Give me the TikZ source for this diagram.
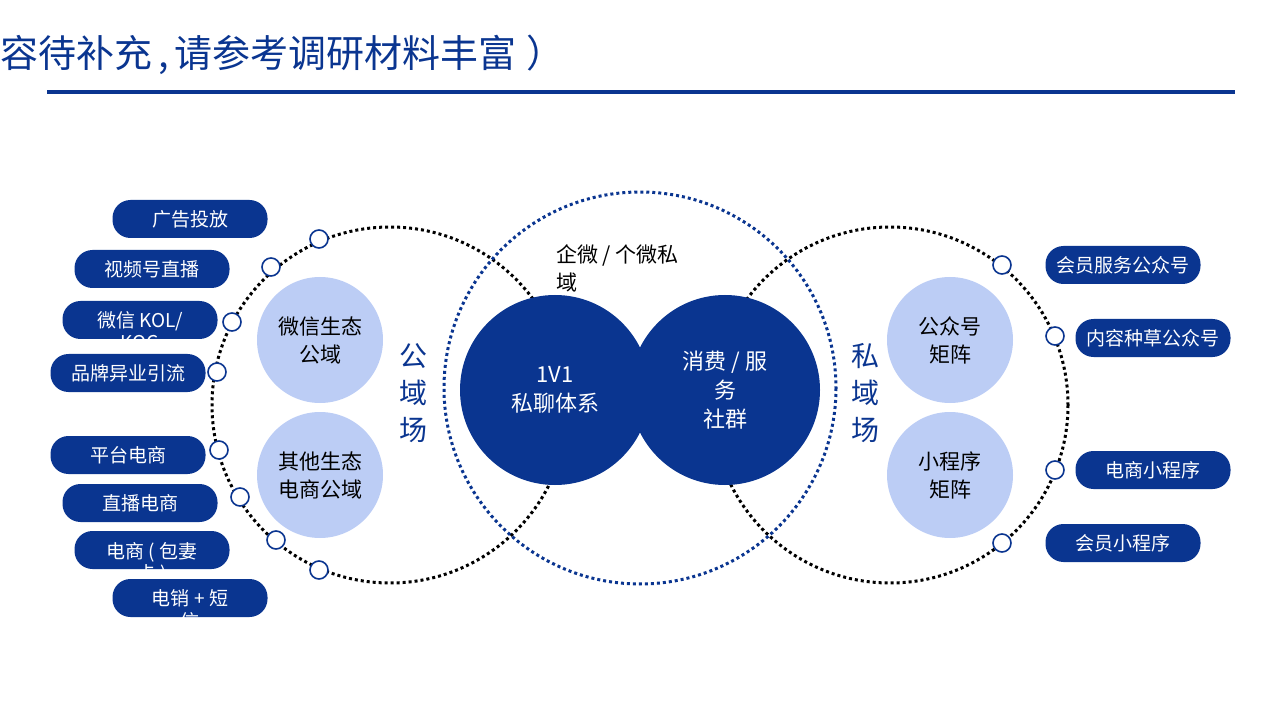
\documentclass[tikz,border=0pt]{standalone}
\usepackage{fontspec}
\setmainfont{Noto Sans CJK SC}
\newcommand{\twol}[2]{\raisebox{0pt}[\height][0pt]{\begin{tabular}[t]{@{}c@{}}#1\\#2\end{tabular}}}
\begin{document}
\begin{tikzpicture}[x=1pt,y=-1pt,
  pill/.style={fill=dblue,draw=none,rounded corners=18pt,minimum width=155pt,minimum height=38pt,text=white,font=\fontsize{19}{22}\selectfont,inner sep=0pt},
  ring/.style={circle,draw=dblue,line width=1.6pt,fill=white,minimum size=18pt,inner sep=0pt},
  light/.style={circle,fill=lblue,minimum size=126pt,inner sep=0pt,font=\fontsize{21}{28}\selectfont,align=center},
  dark/.style={circle,fill=dblue,minimum size=190pt,inner sep=0pt,text=white,font=\fontsize{22}{29}\selectfont,align=center},
  bigdot/.style={draw=black,line width=3pt,dash pattern=on 3pt off 3pt},
]
\definecolor{dblue}{HTML}{0A3590}
\definecolor{lblue}{HTML}{BCCDF5}
\definecolor{tblue}{HTML}{0A3590}
\useasboundingbox (0,0) rectangle (1280,719);
\clip (0,0) rectangle (1280,719);
\node[anchor=west,text=tblue,font=\fontsize{38}{42}\selectfont,inner sep=0pt] (title) at (-38,55) {内容待补充\hspace{6pt},\hspace{6pt}请参考调研材料丰富\hspace{10pt}）};
\draw[dblue,line width=4pt] (47,92) -- (1235,92);
\draw[bigdot] (390,405) circle (178);
\draw[bigdot] (890,405) circle (178);
\draw[draw=dblue,line width=3pt,dash pattern=on 3pt off 3pt] (640,388) circle (196);
\node[light] (w) at (320,340) {微信生态\\公域};
\node[light] (o) at (320,475) {其他生态\\电商公域};
\node[light] (g) at (950,340) {公众号\\矩阵};
\node[light] (x) at (950,475) {小程序\\矩阵};
\node[dark] (d1) at (555,390) {1V1\\私聊体系};
\node[dark] (d2) at (725,390) {消费 / 服\\务\\社群};
\node[text=tblue,font=\fontsize{28}{37}\selectfont,align=center] (gy) at (413,393) {公\\域\\场};
\node[text=tblue,font=\fontsize{28}{37}\selectfont,align=center] (sy) at (865,393) {私\\域\\场};
\node[anchor=north west,align=left,font=\fontsize{21}{28}\selectfont,inner sep=0pt] (qw) at (556,244) {企微 / 个微私\\域};
\node[pill] (p1) at (190,219) {广告投放};
\node[pill] (p2) at (152,269) {视频号直播};
\node[pill] (p3) at (140,320) {\twol{微信 KOL/}{KOC}};
\node[pill] (p4) at (128,373) {品牌异业引流};
\node[pill] (p5) at (128,455) {平台电商};
\node[pill] (p6) at (140,503) {直播电商};
\node[pill] (p7) at (152,550) {\twol{电商 ( 包妻}{卡 )}};
\node[pill] (p8) at (190,598) {\twol{电销 + 短}{信}};
\node[pill] (q1) at (1123,265) {会员服务公众号};
\node[pill] (q2) at (1153,338) {内容种草公众号};
\node[pill] (q3) at (1153,470) {电商小程序};
\node[pill] (q4) at (1123,543) {会员小程序};
\foreach \n/\p in {r1/{(319,239)},r2/{(271,267)},r3/{(232,322)},r4/{(217,372)},r5/{(219,450)},r6/{(240,497)},r7/{(276,540)},r8/{(319,570)},s1/{(1002,265)},s2/{(1055,336)},s3/{(1055,470)},s4/{(1002,543)}}
  \node[ring] (\n) at \p {};
\end{tikzpicture}
\end{document}
